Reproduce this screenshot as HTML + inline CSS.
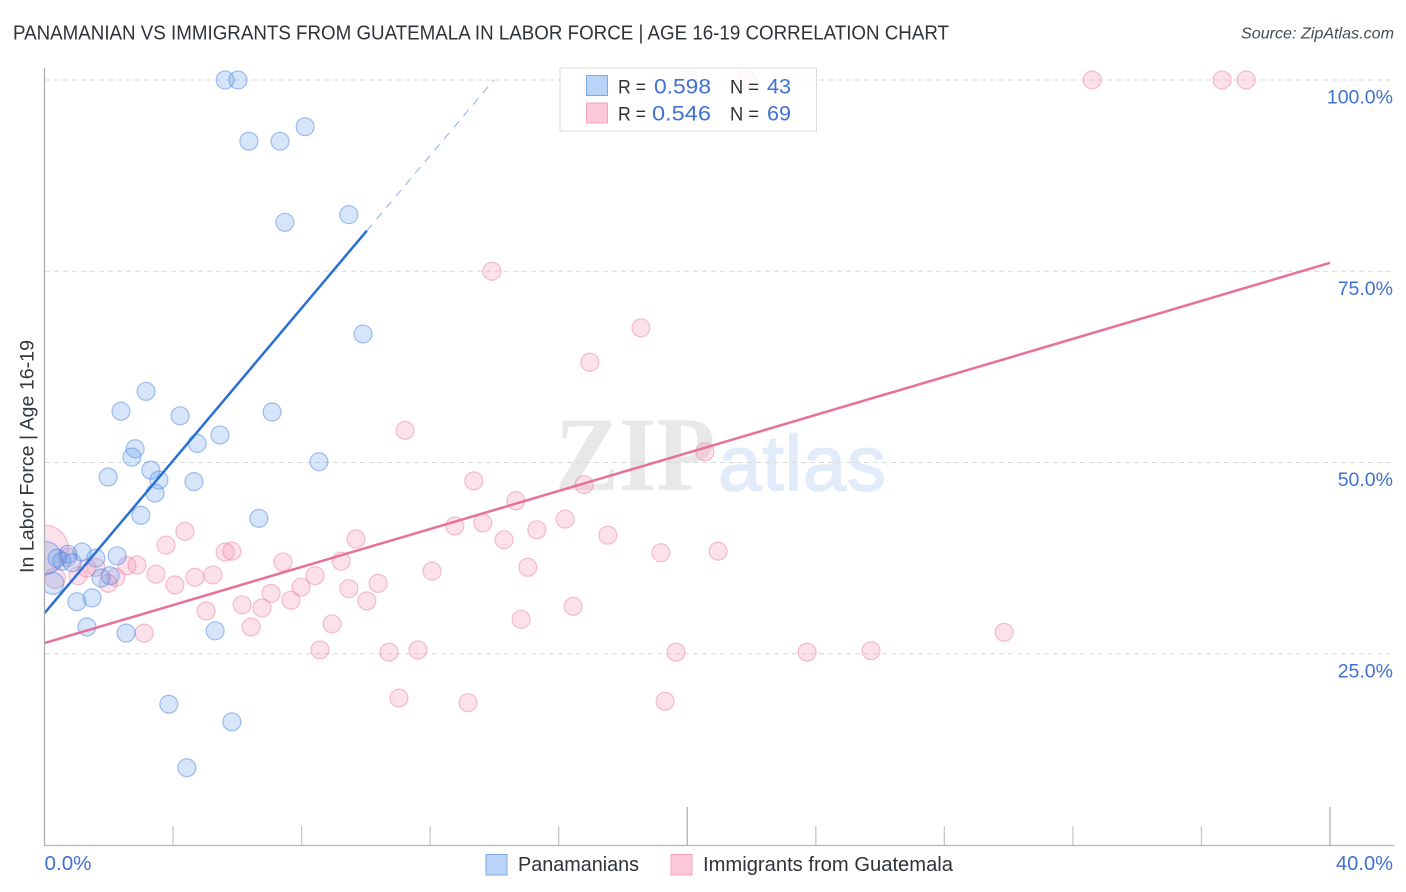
<!DOCTYPE html>
<html lang="en">
<head>
<meta charset="utf-8">
<title>Panamanian vs Immigrants from Guatemala in Labor Force | Age 16-19 Correlation Chart</title>
<style>
html,body{margin:0;padding:0;background:#fff;}
svg{display:block;font-family:"Liberation Sans",sans-serif;}
</style>
</head>
<body>
<svg id="chart" width="1406" height="892" viewBox="0 0 1406 892" xmlns="http://www.w3.org/2000/svg">
  <rect x="0" y="0" width="1406" height="892" fill="#ffffff"/>
  <text x="13" y="39.5" font-size="20" fill="#2f3338" textLength="936" lengthAdjust="spacingAndGlyphs">PANAMANIAN VS IMMIGRANTS FROM GUATEMALA IN LABOR FORCE | AGE 16-19 CORRELATION CHART</text>
  <text x="1241" y="38.5" font-size="16" font-style="italic" fill="#444b52" textLength="153" lengthAdjust="spacingAndGlyphs">Source: ZipAtlas.com</text>
  <text x="555" y="490" font-size="106" font-weight="bold" font-family="'Liberation Serif',serif" fill="#e8e8e8" textLength="160" lengthAdjust="spacingAndGlyphs">ZIP</text>
  <text x="718" y="490" font-size="78" fill="#e1ebf9" stroke="#e1ebf9" stroke-width="1.5" textLength="168" lengthAdjust="spacing">atlas</text>
  <g id="grid"></g>
  <g id="points-pink"></g>
  <g id="points-blue"></g>
  <rect x="0" y="60" width="44" height="790" fill="#ffffff"/>
  <g id="trends"></g>
  <g id="axes"></g>
  <text transform="translate(33.5,456.5) rotate(-90)" font-size="19.5" fill="#33383d" text-anchor="middle" textLength="233" lengthAdjust="spacingAndGlyphs">In Labor Force | Age 16-19</text>
  <g>
    <rect x="560" y="68" width="256.5" height="63" fill="#ffffff" fill-opacity="0.82" stroke="#dcdcdc" stroke-width="1"/>
    <rect x="586.5" y="75.5" width="21" height="20" fill="#b9d4f8" stroke="#7eaae6" stroke-width="1"/>
    <rect x="586.5" y="103" width="21" height="20" fill="#fdc9da" stroke="#f2a3bd" stroke-width="1"/>
    <text x="618" y="93.5" font-size="19.5" fill="#2f3338" textLength="28" lengthAdjust="spacingAndGlyphs">R =</text>
    <text x="654" y="93.5" font-size="21" fill="#3f72d2" textLength="57" lengthAdjust="spacingAndGlyphs">0.598</text>
    <text x="730" y="93.5" font-size="19.5" fill="#2f3338" textLength="29" lengthAdjust="spacingAndGlyphs">N =</text>
    <text x="767" y="93.5" font-size="21" fill="#3f72d2" textLength="24" lengthAdjust="spacingAndGlyphs">43</text>
    <text x="618" y="120.5" font-size="19.5" fill="#2f3338" textLength="28" lengthAdjust="spacingAndGlyphs">R =</text>
    <text x="652" y="120.5" font-size="21" fill="#3f72d2" textLength="59" lengthAdjust="spacingAndGlyphs">0.546</text>
    <text x="730" y="120.5" font-size="19.5" fill="#2f3338" textLength="29" lengthAdjust="spacingAndGlyphs">N =</text>
    <text x="767" y="120.5" font-size="21" fill="#3f72d2" textLength="24" lengthAdjust="spacingAndGlyphs">69</text>
  </g>
  <g>
    <rect x="486" y="854.5" width="21" height="20.5" fill="#b9d4f8" stroke="#7eaae6" stroke-width="1"/>
    <text x="518" y="871" font-size="20" fill="#2f3338" textLength="121" lengthAdjust="spacingAndGlyphs">Panamanians</text>
    <rect x="671" y="854.5" width="21" height="20.5" fill="#fdc9da" stroke="#f2a3bd" stroke-width="1"/>
    <text x="703" y="871" font-size="20" fill="#2f3338" textLength="250" lengthAdjust="spacingAndGlyphs">Immigrants from Guatemala</text>
  </g>
</svg>
<script>
const xTickValues = [0, 4, 8, 12, 16, 20, 24, 28, 32, 36, 40];
const xMajorTicks = [20, 40];
const xTickLabels = ["0.0%", "40.0%"];
const yTickValues = [100, 75, 50, 25];
const yTickLabels = ["100.0%", "75.0%", "50.0%", "25.0%"];

const panamaniansX = [5.62,6.02,6.36,7.33,8.11,7.48,9.47,9.91,2.38,3.16,4.22,7.08,5.46,4.75,2.82,2.72,3.31,1.98,3.56,3.44,4.65,8.54,3.00,6.67,1.17,1.60,2.26,0.73,0.39,0.54,0.86,1.76,2.04,1.48,1.01,1.32,2.54,5.31,3.87,5.83,4.43,0.26,0.02];
const panamaniansY = [100,100,92.0,92.0,93.9,81.4,82.4,66.8,56.7,59.3,56.1,56.6,53.6,52.5,51.8,50.7,49.0,48.1,47.7,46.0,47.5,50.1,43.1,42.7,38.3,37.5,37.8,38.0,37.5,37.1,36.9,34.9,35.2,32.3,31.8,28.5,27.7,28.0,18.4,16.1,10.1,34.2,37.5];
const panamaniansWeight = [1,1,1,1,1,1,1,1,1,1,1,1,1,1,1,1,1,1,1,1,1,1,1,1,1,1,1,1,1,1,1,1,1,1,1,1,1,1,1,1,1,1.5,3.4];

const guatemalaX = [32.6,36.64,37.39,20.02,21.86,13.92,18.56,16.97,11.22,20.55,13.36,16.79,14.67,16.2,12.77,13.64,15.32,14.3,17.53,9.69,4.37,3.78,5.62,5.83,19.18,20.96,9.23,7.42,15.04,12.06,10.38,9.47,8.42,7.98,7.05,7.67,5.24,4.68,4.06,3.47,2.88,2.57,2.22,1.98,1.6,1.32,1.04,5.03,6.15,6.77,10.03,16.45,14.83,8.95,6.43,3.1,8.57,10.72,11.62,19.65,23.73,25.72,29.86,11.03,13.18,19.31,0,0.33,0.73];
const guatemalaY = [100,100,100,100,100,75.0,67.6,63.1,54.2,51.4,47.6,47.1,45.0,42.6,41.7,42.1,41.2,39.9,40.5,40.0,41.0,39.2,38.3,38.4,38.2,38.4,37.1,37.0,36.3,35.8,34.2,33.5,35.2,33.7,32.9,32.0,35.3,35.0,34.0,35.4,36.6,36.5,35.0,34.2,36.3,36.2,35.2,30.6,31.4,31.0,31.9,31.2,29.5,28.9,28.5,27.7,25.5,25.2,25.5,25.2,25.2,25.4,27.8,19.2,18.6,18.8,38.7,34.9,37.6];
const guatemalaWeight = [1,1,1,1,1,1,1,1,1,1,1,1,1,1,1,1,1,1,1,1,1,1,1,1,1,1,1,1,1,1,1,1,1,1,1,1,1,1,1,1,1,1,1,1,1,1,1,1,1,1,1,1,1,1,1,1,1,1,1,1,1,1,1,1,1,1,7,1.3,1];

const panamaniansTrendX = [0, 10.03, 13.98];
const panamaniansTrendY = [30.3, 80.3, 100];
const guatemalaTrendX = [0, 40];
const guatemalaTrendY = [26.4, 76.1];

const SVGNS = "http://www.w3.org/2000/svg";
function xScale(v) { return 44.5 + v * 32.1375; }
function yScale(v) { return 845 - v * 7.65; }
function radius(w) { return 9 * Math.sqrt(w); }
function make(tag, parent, attrs) {
  const el = document.createElementNS(SVGNS, tag);
  for (const k in attrs) el.setAttribute(k, attrs[k]);
  parent.appendChild(el);
  return el;
}

const grid = document.getElementById("grid");
yTickValues.forEach(function (v) {
  const el = make("line", grid, {x1: 45, x2: 1394, y1: yScale(v), y2: yScale(v), stroke: "#d9d9d9", "stroke-width": 1, "stroke-dasharray": "5 4"});
  
  
});

function drawPoints(groupId, xs, ys, ws, fill, stroke, name) {
  const g = document.getElementById(groupId);
  xs.forEach(function (x, i) {
    const el = make("circle", g, {cx: xScale(x), cy: yScale(ys[i]), r: radius(ws[i]), fill: fill, stroke: stroke, "stroke-width": 1.2});
    
    
  });
}

drawPoints("points-pink", guatemalaX, guatemalaY, guatemalaWeight, "rgba(245,150,182,0.29)", "rgba(232,120,160,0.45)", "guatemala-point");
drawPoints("points-blue", panamaniansX, panamaniansY, panamaniansWeight, "rgba(105,160,238,0.27)", "rgba(60,125,225,0.46)", "panamanians-point");

const trends = document.getElementById("trends");
const blueSolid = make("line", trends, {x1: xScale(panamaniansTrendX[0]), y1: yScale(panamaniansTrendY[0]), x2: xScale(panamaniansTrendX[1]), y2: yScale(panamaniansTrendY[1]), stroke: "#2a6fd6", "stroke-width": 2.5});


const blueDash = make("line", trends, {x1: xScale(panamaniansTrendX[1]), y1: yScale(panamaniansTrendY[1]), x2: xScale(panamaniansTrendX[2]), y2: yScale(panamaniansTrendY[2]), stroke: "#8fb0e4", "stroke-width": 1, "stroke-dasharray": "8 7"});


const pinkLine = make("line", trends, {x1: xScale(guatemalaTrendX[0]), y1: yScale(guatemalaTrendY[0]), x2: xScale(guatemalaTrendX[1]), y2: yScale(guatemalaTrendY[1]), stroke: "#e8709c", "stroke-width": 2.5});



const axes = document.getElementById("axes");
const yAxis = make("line", axes, {x1: 44.5, x2: 44.5, y1: 68, y2: 846, stroke: "#aeaeae", "stroke-width": 1.3});


const xAxis = make("line", axes, {x1: 44, x2: 1394, y1: 845.5, y2: 845.5, stroke: "#b4b4b4", "stroke-width": 1.3});



xTickValues.slice(1).forEach(function (v) {
  const major = xMajorTicks.indexOf(v) >= 0;
  const el = make("line", axes, {x1: xScale(v), x2: xScale(v), y1: major ? 807 : 826, y2: 845, stroke: major ? "#b0b0b0" : "#c8c8c8", "stroke-width": 1.3});
  
  
});

yTickValues.forEach(function (v, i) {
  const el = make("text", axes, {x: 1393, y: yScale(v) + 23.5, "text-anchor": "end", "font-size": 19.5, fill: "#3f72d2"});
  el.textContent = yTickLabels[i];
  
  
});

const xLabelLeft = make("text", axes, {x: xScale(xTickValues[0]), y: 870, "font-size": 20, fill: "#3f72d2", textLength: 47, lengthAdjust: "spacingAndGlyphs"});
xLabelLeft.textContent = xTickLabels[0];


const xLabelRight = make("text", axes, {x: 1336, y: 870, "font-size": 20, fill: "#3f72d2", textLength: 57, lengthAdjust: "spacingAndGlyphs"});
xLabelRight.textContent = xTickLabels[1];


</script>
</body>
</html>
